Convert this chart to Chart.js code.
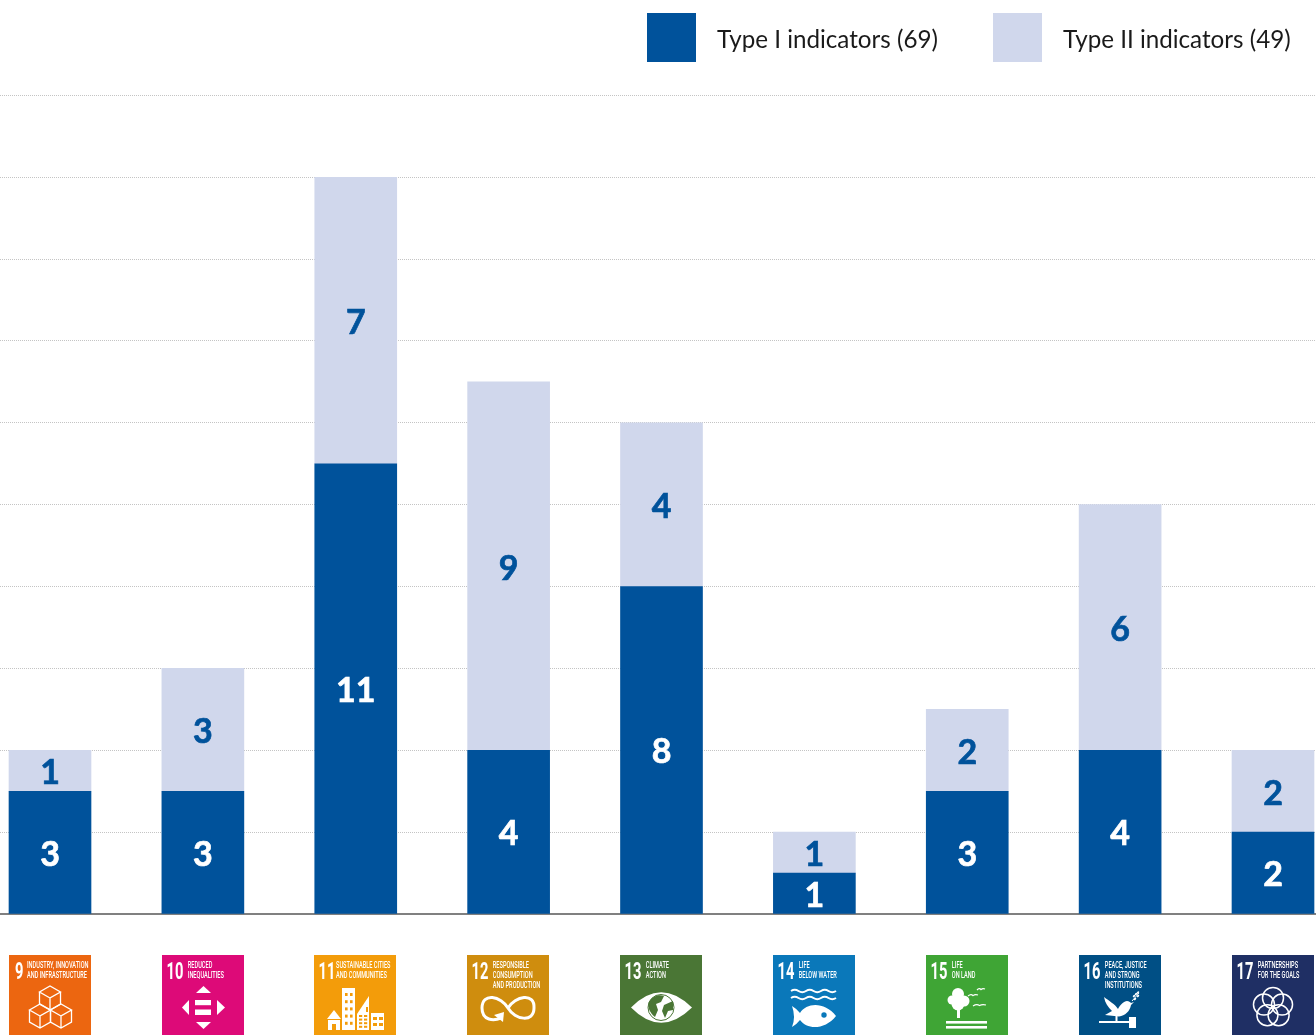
<!DOCTYPE html>
<html>
<head>
<meta charset="utf-8">
<title>Indicators by goal</title>
<script src="https://cdn.jsdelivr.net/npm/chart.js@4"></script>
<style>
  html, body { margin: 0; background: #fff; }
  body { position: relative; width: 1316px; height: 1035px; overflow: hidden; font-family: Lato, sans-serif; }
  #chart { position: absolute; left: -27px; top: 0; }
  .legend-box { position: absolute; top: 13px; width: 49px; height: 49px; }
  .legend-text { position: absolute; top: 24px; font-size: 24.2px; line-height: 30px; color: #1a1a1a; white-space: nowrap; }
</style>
</head>
<body>
<canvas id="chart" width="1377" height="1035"></canvas>
<script>
const goals = ['9', '10', '11', '12', '13', '14', '15', '16', '17'];
const typeOne = [3, 3, 11, 4, 8, 1, 3, 4, 2];
const typeTwo = [1, 3, 7, 9, 4, 1, 2, 6, 2];
const seriesNames = ['Type I indicators (69)', 'Type II indicators (49)'];
const yTicks = [0, 2, 4, 6, 8, 10, 12, 14, 16, 18, 20];

const goalTitles = [
  ['INDUSTRY, INNOVATION', 'AND INFRASTRUCTURE'],
  ['REDUCED', 'INEQUALITIES'],
  ['SUSTAINABLE CITIES', 'AND COMMUNITIES'],
  ['RESPONSIBLE', 'CONSUMPTION', 'AND PRODUCTION'],
  ['CLIMATE', 'ACTION'],
  ['LIFE', 'BELOW WATER'],
  ['LIFE', 'ON LAND'],
  ['PEACE, JUSTICE', 'AND STRONG', 'INSTITUTIONS'],
  ['PARTNERSHIPS', 'FOR THE GOALS'],
];
const goalColors = ['#ec6610', '#dd0a78', '#f39c0a', '#cf8d0e', '#4a7635', '#0a78ba', '#3fa535', '#004f85', '#1f2f64'];

const BLUE = '#00529b';
const PALE = '#d0d7ec';

// legend sits outside the canvas so it can be placed freely
const legendSpots = [[647, 717], [993, 1063]];
seriesNames.forEach((name, i) => {
  const box = document.createElement('div');
  box.className = 'legend-box';
  box.style.left = legendSpots[i][0] + 'px';
  box.style.background = i === 0 ? BLUE : PALE;
  const text = document.createElement('div');
  text.className = 'legend-text';
  text.style.left = legendSpots[i][1] + 'px';
  text.textContent = name;
  document.body.append(box, text);
});

// Icon helpers, all in a tile-local coordinate system
function poly(ctx, pts) {
  ctx.beginPath();
  pts.forEach((p, i) => (i ? ctx.lineTo(p[0], p[1]) : ctx.moveTo(p[0], p[1])));
  ctx.closePath();
  ctx.fill();
}

function cube(ctx, x, y) {
  ctx.beginPath();
  ctx.moveTo(x, y + 12);
  ctx.lineTo(x - 10.5, y + 6);
  ctx.lineTo(x, y);
  ctx.lineTo(x + 10.5, y + 6);
  ctx.lineTo(x, y + 12);
  ctx.lineTo(x, y + 24);
  ctx.moveTo(x - 10.5, y + 6);
  ctx.lineTo(x - 10.5, y + 18);
  ctx.lineTo(x, y + 24);
  ctx.lineTo(x + 10.5, y + 18);
  ctx.lineTo(x + 10.5, y + 6);
  ctx.stroke();
}

function wave(ctx, x0, x1, y) {
  const w = (x1 - x0) / 6;
  ctx.beginPath();
  ctx.moveTo(x0, y);
  for (let i = 0; i < 6; i++) {
    ctx.quadraticCurveTo(x0 + w * (i + 0.5), y + (i % 2 ? 2.4 : -2.4), x0 + w * (i + 1), y);
  }
  ctx.stroke();
}

function bird(ctx, x, y, w) {
  ctx.beginPath();
  ctx.moveTo(x, y + 1);
  ctx.quadraticCurveTo(x + w * 0.3, y - 1.5, x + w * 0.5, y + 0.6);
  ctx.quadraticCurveTo(x + w * 0.7, y - 1, x + w, y);
  ctx.stroke();
}

const goalIcons = [
  // 9 stacked cubes
  (ctx) => {
    ctx.lineWidth = 1.3;
    cube(ctx, 41, 31);
    cube(ctx, 31, 49);
    cube(ctx, 52, 49);
  },
  // 10 arrows around an equals sign
  (ctx) => {
    poly(ctx, [[34, 38], [49, 38], [41.5, 31]]);
    poly(ctx, [[34, 67], [49, 67], [41.5, 74]]);
    poly(ctx, [[27, 45], [27, 60], [20, 52.5]]);
    poly(ctx, [[55, 45], [55, 60], [63, 52.5]]);
    ctx.fillRect(33, 45, 16, 5.2);
    ctx.fillRect(33, 54.5, 16, 5.5);
  },
  // 11 skyline
  (ctx, bg) => {
    ctx.fillRect(28, 33, 13, 42);
    poly(ctx, [[43, 75], [43, 59], [55, 41], [55, 75]]);
    ctx.fillRect(57, 58, 13, 17);
    poly(ctx, [[13, 64], [20, 55], [27, 64]]);
    ctx.fillRect(14, 65, 12, 10);
    ctx.fillStyle = bg;
    for (let r = 0; r < 5; r++) {
      ctx.fillRect(31, 38 + r * 7.2, 2.6, 3);
      ctx.fillRect(36, 38 + r * 7.2, 2.6, 3);
    }
    for (let r = 0; r < 4; r++) {
      ctx.fillRect(45, 60 + r * 3.6, 3.2, 2);
      ctx.fillRect(50, 60 + r * 3.6, 3.2, 2);
    }
    ctx.fillRect(52, 52, 2, 5);
    ctx.fillRect(59, 62, 4, 3);
    ctx.fillRect(65, 62, 4, 3);
    ctx.fillRect(59, 68, 4, 3);
    ctx.fillRect(65, 68, 4, 3);
    ctx.fillRect(18, 69, 4, 6);
  },
  // 12 infinity loop with arrow head
  (ctx) => {
    ctx.lineWidth = 3;
    ctx.beginPath();
    ctx.moveTo(41, 53);
    ctx.bezierCurveTo(48, 41, 68, 37, 67, 53);
    ctx.bezierCurveTo(67, 68, 48, 65, 41, 53);
    ctx.bezierCurveTo(34, 41, 15, 37, 15, 53);
    ctx.bezierCurveTo(15, 66, 27, 66, 34, 63);
    ctx.stroke();
    poly(ctx, [[27, 60], [37, 57], [36, 67]]);
  },
  // 13 eye with a globe
  (ctx, bg) => {
    ctx.beginPath();
    ctx.moveTo(11, 52.5);
    ctx.quadraticCurveTo(41, 22, 72, 52.5);
    ctx.quadraticCurveTo(41, 83, 11, 52.5);
    ctx.fill();
    ctx.strokeStyle = bg;
    ctx.fillStyle = bg;
    ctx.lineWidth = 1;
    ctx.beginPath();
    ctx.arc(41, 52.5, 13, 0, Math.PI * 2);
    ctx.stroke();
    ctx.beginPath();
    ctx.moveTo(29, 47);
    ctx.bezierCurveTo(32, 41, 39, 39, 44, 41);
    ctx.lineTo(41, 47);
    ctx.lineTo(36, 49);
    ctx.lineTo(38, 55);
    ctx.lineTo(35, 62);
    ctx.bezierCurveTo(30, 58, 27, 52, 29, 47);
    ctx.fill();
    ctx.beginPath();
    ctx.moveTo(44, 50);
    ctx.lineTo(53, 46);
    ctx.lineTo(53, 55);
    ctx.lineTo(48, 56);
    ctx.lineTo(45, 63);
    ctx.lineTo(42, 56);
    ctx.closePath();
    ctx.fill();
  },
  // 14 waves over a fish
  (ctx, bg) => {
    ctx.lineWidth = 2;
    wave(ctx, 18, 63, 36);
    wave(ctx, 18, 63, 43);
    ctx.beginPath();
    ctx.moveTo(19, 51);
    ctx.quadraticCurveTo(24, 54, 27, 58);
    ctx.bezierCurveTo(34, 47, 52, 47, 63, 61);
    ctx.bezierCurveTo(52, 75, 34, 75, 27, 65);
    ctx.quadraticCurveTo(24, 69, 19, 72);
    ctx.quadraticCurveTo(23, 62, 19, 51);
    ctx.fill();
    ctx.fillStyle = bg;
    ctx.beginPath();
    ctx.arc(51, 60, 2.7, 0, Math.PI * 2);
    ctx.fill();
  },
  // 15 tree, birds and ground
  (ctx) => {
    [[32, 39, 6], [26, 45, 4.5], [38, 46, 5.5], [32, 49, 6.5]].forEach((c) => {
      ctx.beginPath();
      ctx.arc(c[0], c[1], c[2], 0, Math.PI * 2);
      ctx.fill();
    });
    ctx.fillRect(31, 54, 3, 9);
    ctx.fillRect(20, 66, 41, 2.6);
    ctx.fillRect(20, 71, 41, 2.6);
    ctx.lineWidth = 1.2;
    bird(ctx, 42, 40, 10);
    bird(ctx, 51, 34, 8);
    bird(ctx, 47, 50, 13);
  },
  // 16 dove above a gavel
  (ctx) => {
    ctx.beginPath();
    ctx.moveTo(25, 42);
    ctx.bezierCurveTo(30, 46, 36, 49, 39, 54);
    ctx.bezierCurveTo(41, 50, 45, 46, 48, 46);
    ctx.bezierCurveTo(50, 46, 51, 47, 52, 48);
    ctx.lineTo(55, 47);
    ctx.lineTo(52, 50);
    ctx.bezierCurveTo(51, 56, 46, 61, 40, 61.5);
    ctx.lineTo(26, 60);
    ctx.lineTo(33, 56);
    ctx.bezierCurveTo(29, 52, 26, 48, 25, 42);
    ctx.fill();
    ctx.lineWidth = 1;
    ctx.beginPath();
    ctx.moveTo(53, 46);
    ctx.lineTo(60, 38);
    ctx.stroke();
    [[55, 41], [57, 39], [59, 41], [56, 44], [59, 37.5]].forEach((c) => {
      ctx.beginPath();
      ctx.ellipse(c[0], c[1], 1.5, 0.9, -0.8, 0, Math.PI * 2);
      ctx.fill();
    });
    ctx.fillRect(36.5, 61, 2, 5);
    ctx.fillRect(20, 66, 32, 2);
    ctx.fillRect(50, 62, 7, 11);
  },
  // 17 five interlocking rings
  (ctx) => {
    ctx.lineWidth = 1.5;
    for (let i = 0; i < 5; i++) {
      const a = -Math.PI / 2 + (i * 2 * Math.PI) / 5;
      ctx.beginPath();
      ctx.arc(41 + 9.5 * Math.cos(a), 52.5 + 9.5 * Math.sin(a), 10.5, 0, Math.PI * 2);
      ctx.stroke();
    }
  },
];

// Condensed caps, there is no narrow face of this weight so the text gets squeezed
function squeezedText(ctx, text, x, y, font, squeeze) {
  ctx.save();
  ctx.translate(x, y);
  ctx.scale(squeeze, 1);
  ctx.font = font;
  ctx.fillText(text, 0, 0);
  ctx.restore();
}

const goalTiles = {
  id: 'goalTiles',
  afterDraw(chart) {
    const { ctx, scales } = chart;
    const size = 82;
    const top = 955;
    goals.forEach((goal, i) => {
      const left = Math.floor(scales.x.getPixelForValue(i) - size / 2 + 0.2);
      ctx.save();
      ctx.translate(left, top);
      ctx.fillStyle = goalColors[i];
      ctx.fillRect(0, 0, size, size);
      ctx.fillStyle = '#fff';
      ctx.strokeStyle = '#fff';
      ctx.textAlign = 'left';
      ctx.textBaseline = 'alphabetic';

      const wide = goal.length > 1;
      squeezedText(ctx, goal, wide ? 4.5 : 6, 24, 'bold 23px Roboto', 0.64);
      const titleX = goal === '11' ? 22 : wide ? 25.8 : 18;
      goalTitles[i].forEach((line, n) => {
        squeezedText(ctx, line, titleX, 13.4 + n * 10, '500 9.5px Roboto', 0.59);
      });
      goalIcons[i](ctx, goalColors[i]);
      ctx.restore();
    });
  },
};

// Value labels centred inside each stacked segment
const segmentLabels = {
  id: 'segmentLabels',
  afterDatasetsDraw(chart) {
    const { ctx } = chart;
    ctx.save();
    ctx.font = 'bold 34px Lato';
    ctx.textAlign = 'center';
    ctx.textBaseline = 'middle';
    ctx.lineWidth = 0.7;
    chart.data.datasets.forEach((ds, d) => {
      ctx.fillStyle = d === 0 ? '#fff' : BLUE;
      ctx.strokeStyle = ctx.fillStyle;
      chart.getDatasetMeta(d).data.forEach((bar, i) => {
        const c = bar.getCenterPoint();
        ctx.fillText(ds.data[i], c.x, c.y + 2.5);
        ctx.strokeText(ds.data[i], c.x, c.y + 2.5);
      });
    });
    ctx.restore();
  },
};

new Chart(document.getElementById('chart'), {
  type: 'bar',
  data: {
    labels: goals,
    datasets: [
      { label: seriesNames[0], data: typeOne, backgroundColor: BLUE, barThickness: 82 },
      { label: seriesNames[1], data: typeTwo, backgroundColor: PALE, barThickness: 82 },
    ],
  },
  options: {
    responsive: false,
    animation: false,
    layout: { padding: { left: 0.5625, right: 0.5625, top: 95.4, bottom: 121 } },
    plugins: { legend: { display: false }, tooltip: { enabled: false } },
    scales: {
      x: {
        stacked: true,
        ticks: { display: false },
        grid: { display: false, drawTicks: false },
        border: { color: '#808080', width: 2 },
      },
      y: {
        stacked: true,
        min: 0,
        max: 20,
        afterBuildTicks: (axis) => { axis.ticks = yTicks.map((value) => ({ value })); },
        ticks: { display: false },
        grid: { color: '#c4c4c4', lineWidth: 1, drawTicks: false },
        border: { display: false, dash: [1, 1] },
      },
    },
  },
  plugins: [segmentLabels, goalTiles],
});
</script>
</body>
</html>
